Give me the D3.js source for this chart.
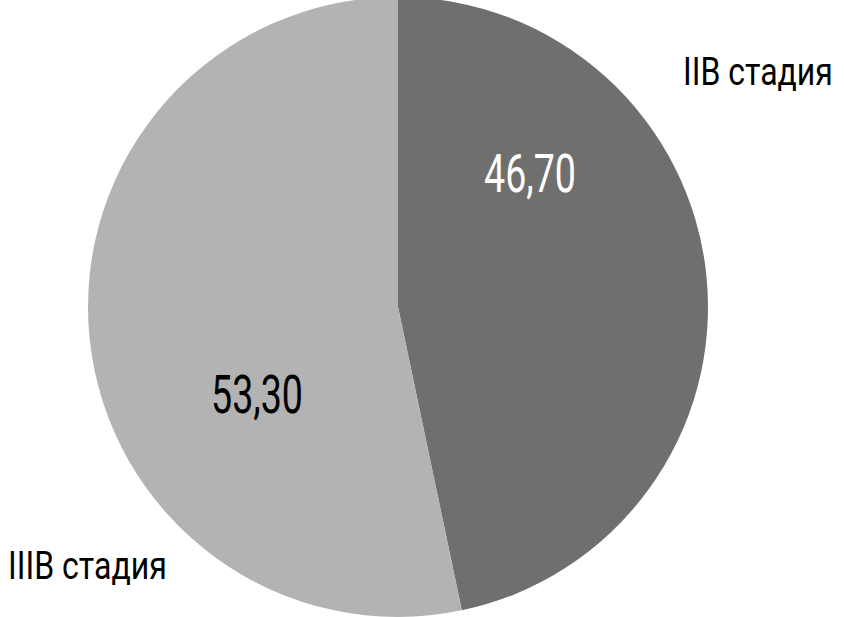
<!DOCTYPE html>
<html>
<head>
<meta charset="utf-8">
<script src="https://cdn.jsdelivr.net/npm/d3@7"></script>
<style>
  body { margin: 0; background: #fff; }
  text { font-family: Roboto, "DejaVu Sans", sans-serif; }
</style>
</head>
<body>
<script>
// pie data
var stages = ["IIB стадия", "IIIB стадия"];
var shares = [46.70, 53.30];
var valueLabels = ["46,70", "53,30"];
var colors = ["#6f6f6d", "#b3b3b3"];

var width = 844,
    height = 617,
    cx = 398,
    cy = 307,
    radius = 310;

var svg = d3.select("body").append("svg")
    .attr("width", width)
    .attr("height", height);

var pie = d3.pie().sort(null).value(function(d) { return d; });
var arc = d3.arc().innerRadius(0).outerRadius(radius);

var g = svg.append("g")
    .attr("transform", "translate(" + cx + "," + cy + ")");

var arcs = pie(shares);

g.selectAll("path")
    .data(arcs)
  .enter().append("path")
    .attr("d", arc)
    .style("fill", function(d, i) { return colors[i]; });

// squeeze a text horizontally to a given width (the reference font is condensed)
function fitWidth(sel, x, y, w, anchor) {
  sel.each(function() {
    var t = d3.select(this);
    var natural = this.getComputedTextLength();
    var s = w / natural;
    var left = anchor === "middle" ? x - w / 2 : x;
    t.attr("x", 0).attr("y", 0)
      .attr("transform", "translate(" + left + "," + y + ") scale(" + s + ",1)");
  });
}

// value labels inside slices (positions relative to center)
var valuePos = [[132, -115], [-141, 106]];
g.selectAll("text.val")
    .data(arcs)
  .enter().append("text")
    .attr("class", "val")
    .style("font-size", "53px")
    .style("fill", function(d, i) { return i === 0 ? "#fff" : "#000"; })
    .text(function(d, i) { return valueLabels[i]; })
    .each(function(d, i) {
      fitWidth(d3.select(this), valuePos[i][0], valuePos[i][1], 92, "middle");
    });

// category labels outside
var catPos = [[683, 85, 150], [8, 579, 159]];
svg.selectAll("text.cat")
    .data(stages)
  .enter().append("text")
    .attr("class", "cat")
    .style("font-size", "39px")
    .style("fill", "#000")
    .text(function(d) { return d; })
    .each(function(d, i) {
      fitWidth(d3.select(this), catPos[i][0], catPos[i][1], catPos[i][2], "start");
    });
</script>
</body>
</html>
